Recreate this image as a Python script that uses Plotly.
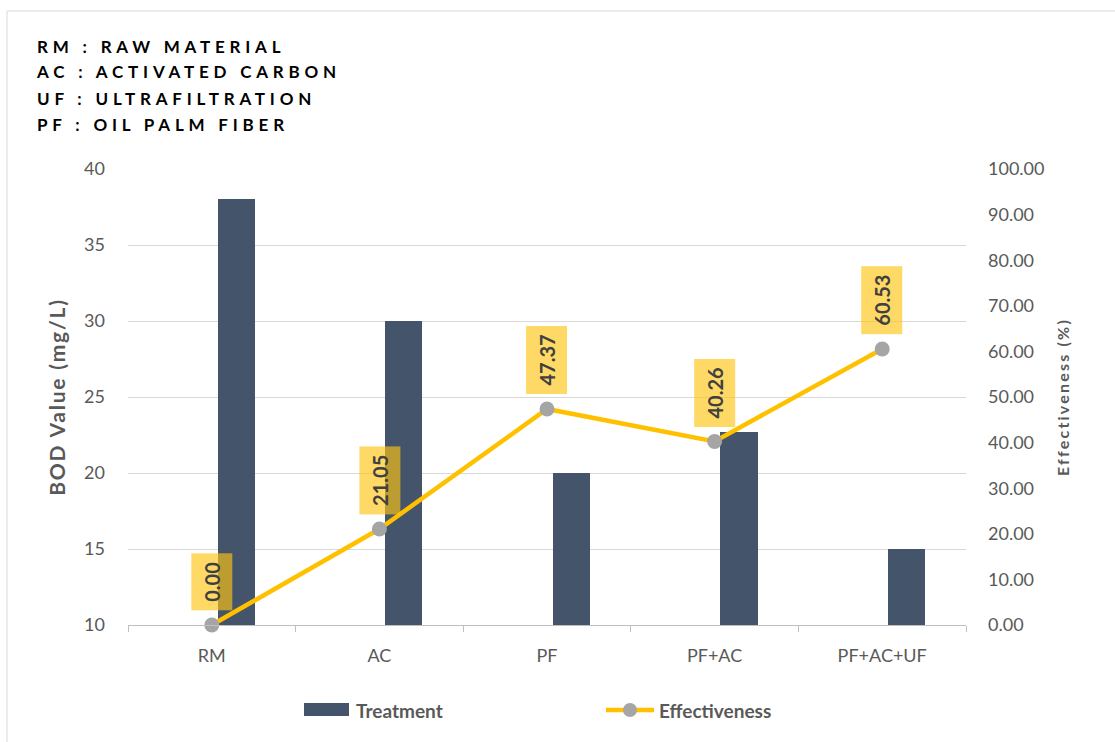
import plotly.graph_objects as go

# Treatment stages and measured values
categories = ["RM", "AC", "PF", "PF+AC", "PF+AC+UF"]
bod_values = [38, 30, 20, 22.7, 15]
effectiveness = [0.00, 21.05, 47.37, 40.26, 60.53]
left_ticks = [10, 15, 20, 25, 30, 35, 40]
right_ticks = [0, 10, 20, 30, 40, 50, 60, 70, 80, 90, 100]
abbreviations = [
    "RM : RAW MATERIAL",
    "AC : ACTIVATED CARBON",
    "UF : ULTRAFILTRATION",
    "PF : OIL PALM FIBER",
]
series_names = ["Treatment", "Effectiveness"]

FONT = "Lato"
GRAY = "#595959"
BAR_COLOR = "#44546A"
LINE_COLOR = "#FFC000"
MARKER_COLOR = "#A5A5A5"

# plot-area geometry in pixels (used to place items outside the axes)
W, H = 1115, 742
L, R, T, B = 128, 149, 169, 117
PW, PH = W - L - R, H - T - B


def px(x):
    return (x - L) / PW


def py(y):
    return (H - B - y) / PH


fig = go.Figure()

fig.add_trace(go.Bar(
    x=categories, y=bod_values, name=series_names[0],
    marker=dict(color=BAR_COLOR, line=dict(width=0)),
    width=0.223, offset=0.034,
    yaxis="y", showlegend=False,
))

fig.add_trace(go.Scatter(
    x=categories, y=effectiveness, name=series_names[1],
    mode="lines+markers",
    line=dict(color=LINE_COLOR, width=4.5),
    marker=dict(color=MARKER_COLOR, size=15, line=dict(width=0)),
    yaxis="y2", showlegend=False, cliponaxis=False,
))

annotations = []
for cat, val in zip(categories, effectiveness):
    annotations.append(dict(
        x=cat, y=val, xref="x", yref="y2",
        text=f"<b>{val:.2f}</b>", textangle=-90,
        showarrow=False, xanchor="center", yanchor="bottom", yshift=14,
        bgcolor="rgba(255,197,20,0.65)", borderpad=8,
        font=dict(family=FONT, size=20, color="#404040"),
    ))

# abbreviation key, one line per entry
for i, line in enumerate(abbreviations):
    annotations.append(dict(
        x=px(35), y=py(46 + 26 * i), xref="paper", yref="paper",
        xanchor="left", yanchor="middle", showarrow=False,
        text=f"<b>{line}</b>",
        font=dict(family=FONT, size=17, color="#000000"),
    ))

# legend drawn below the axis
legend_font = dict(family=FONT, size=19, color=GRAY, weight="bold")
annotations.append(dict(
    x=px(354), y=py(710), xref="paper", yref="paper",
    xanchor="left", yanchor="middle", showarrow=False,
    text=series_names[0], font=legend_font,
))
annotations.append(dict(
    x=px(657), y=py(710), xref="paper", yref="paper",
    xanchor="left", yanchor="middle", showarrow=False,
    text=series_names[1], font=legend_font,
))

shapes = [
    dict(type="rect", xref="paper", yref="paper",
         x0=px(7), y0=py(H + 20), x1=px(W + 20), y1=py(11),
         line=dict(color="#D9D9D9", width=1), fillcolor="rgba(0,0,0,0)",
         layer="below"),
    dict(type="rect", xref="paper", yref="paper",
         x0=px(304), x1=px(349), y0=py(716), y1=py(703),
         line=dict(width=0), fillcolor=BAR_COLOR),
    dict(type="line", xref="paper", yref="paper",
         x0=px(606), x1=px(654), y0=py(710), y1=py(710),
         line=dict(color=LINE_COLOR, width=4.5)),
    dict(type="circle", xref="paper", yref="paper",
         x0=px(623), x1=px(637), y0=py(717), y1=py(703),
         line=dict(width=0), fillcolor=MARKER_COLOR),
]

fig.update_layout(
    width=W, height=H,
    margin=dict(l=L, r=R, t=T, b=B),
    paper_bgcolor="white", plot_bgcolor="white",
    font=dict(family=FONT, color=GRAY),
    bargap=0, showlegend=False,
    xaxis=dict(
        type="category", range=[-0.5, 4.5],
        showline=True, linecolor="#BFBFBF", linewidth=1,
        ticks="outside", tickson="boundaries", ticklen=6, tickcolor="#BFBFBF",
        tickfont=dict(family=FONT, size=18, color=GRAY),
        ticklabelstandoff=14,
        showgrid=False, zeroline=False,
    ),
    yaxis=dict(
        range=[10, 40], tickvals=left_ticks,
        showgrid=True, gridcolor="#D9D9D9", gridwidth=1,
        zeroline=False, showline=False, ticks="",
        tickfont=dict(family=FONT, size=18, color=GRAY),
        ticklabelstandoff=22,
        title=dict(text="<b>BOD Value (mg/L)</b>",
                   font=dict(family=FONT, size=21, color=GRAY), standoff=12),
    ),
    yaxis2=dict(
        range=[0, 100], tickvals=right_ticks, tickformat=".2f",
        overlaying="y", side="right",
        showgrid=False, zeroline=False, showline=False, ticks="",
        tickfont=dict(family=FONT, size=18, color=GRAY),
        ticklabelstandoff=21,
        title=dict(text="<b>Effectiveness (%)</b>",
                   font=dict(family=FONT, size=16, color=GRAY), standoff=14),
    ),
    annotations=annotations,
    shapes=shapes,
)

# letter spacing for the key (kept left-aligned) and the axis titles
post = """
var gd = document.getElementById('{plot_id}');
gd.querySelectorAll('.annotation-text').forEach(function(t){
  if (t.textContent.indexOf(' : ') >= 0) {
    var left = t.getBBox().x;
    t.setAttribute('text-anchor', 'start');
    t.setAttribute('x', left);
    t.style.letterSpacing = '4.8px';
  }
});
gd.querySelectorAll('.ytitle').forEach(function(t){ t.style.letterSpacing = '1.8px'; });
gd.querySelectorAll('.y2title').forEach(function(t){ t.style.letterSpacing = '2.2px'; });
"""

fig.write_html("out.html", post_script=post)
